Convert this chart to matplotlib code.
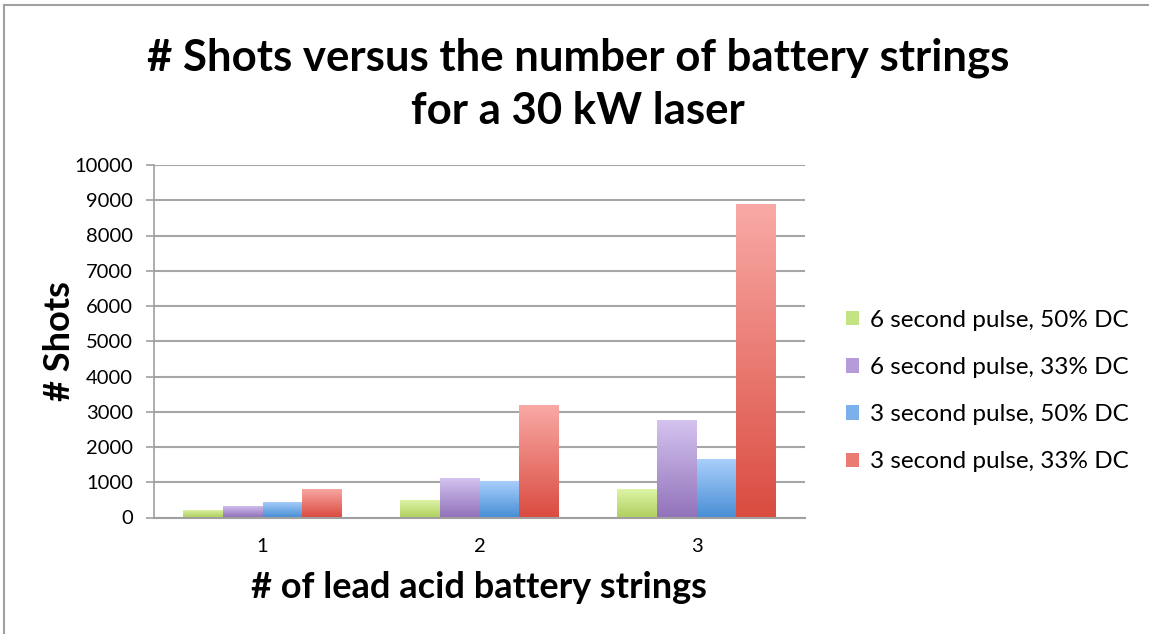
import matplotlib
matplotlib.use("Agg")
import matplotlib.pyplot as plt
import numpy as np
from matplotlib.colors import LinearSegmentedColormap
from matplotlib.patches import Patch
from matplotlib.lines import Line2D

categories = ["1", "2", "3"]
series_names = ["6 second pulse, 50% DC", "6 second pulse, 33% DC",
                "3 second pulse, 50% DC", "3 second pulse, 33% DC"]
s_6s_50 = [200, 500, 820]
s_6s_33 = [320, 1110, 2775]
s_3s_50 = [445, 1045, 1670]
s_3s_33 = [800, 3180, 8880]
series_values = [s_6s_50, s_6s_33, s_3s_50, s_3s_33]
y_ticks = [0, 1000, 2000, 3000, 4000, 5000, 6000, 7000, 8000, 9000, 10000]

top_colors = ["#e0f5aa", "#d5c4f0", "#abd0fc", "#f9aaa6"]
bot_colors = ["#b0d060", "#9173ba", "#4a8fd6", "#da4c40"]
mid_colors = ["#c4e383", "#b59cd8", "#7bb0ea", "#ea7b73"]

plt.rcParams['font.family'] = ['Lato', 'DejaVu Sans']

fig = plt.figure(figsize=(11.49, 6.34), dpi=100)
W, H = 1149, 634
ax = fig.add_axes([154 / W, (H - 517.5) / H, (805 - 154) / W, (517.5 - 165) / H])

n = len(series_values)
group_w = 0.733
bw = group_w / n
x = np.arange(len(categories))
for i, vals in enumerate(series_values):
    offs = x - group_w / 2 + bw * (i + 0.5)
    bars = ax.bar(offs, vals, width=bw, color="none", edgecolor="none", zorder=3)
    cmap = LinearSegmentedColormap.from_list("g%d" % i, [bot_colors[i], top_colors[i]])
    grad = np.linspace(0, 1, 256).reshape(-1, 1)
    for b in bars:
        x0 = b.get_x()
        h = b.get_height()
        im = ax.imshow(grad, cmap=cmap, origin="lower", aspect="auto",
                       extent=(x0, x0 + b.get_width(), 0, h), zorder=3)
        im.set_clip_path(b)

ax.set_xlim(-0.5, len(categories) - 0.5)
ax.set_ylim(0, 10000)
ax.set_yticks(y_ticks)
ax.set_yticklabels([str(t) for t in y_ticks], fontsize=14.5)
ax.set_xticks(x)
ax.set_xticklabels(categories, fontsize=14.5)
ax.tick_params(axis="x", length=0, pad=15)
ax.tick_params(axis="y", length=6, color="#a0a0a0", width=1.2, pad=9)
ax.yaxis.grid(True, color="#a6a6a6", linewidth=1.5, zorder=0)
ax.set_axisbelow(True)
for s in ["top", "right"]:
    ax.spines[s].set_visible(False)
ax.spines["left"].set_color("#a0a0a0")
ax.spines["bottom"].set_color("#a0a0a0")
ax.spines["left"].set_linewidth(1.2)
ax.spines["bottom"].set_linewidth(1.5)

fig.text(578 / W, 1 - 58 / H, "# Shots versus the number of battery strings",
         ha="center", va="center", fontsize=31.5, fontweight="bold")
fig.text(578 / W, 1 - 111 / H, "for a 30 kW laser",
         ha="center", va="center", fontsize=31.5, fontweight="bold")
fig.text(60 / W, 1 - 341 / H, "# Shots", rotation=90, ha="center", va="center",
         fontsize=26, fontweight="bold")
fig.text(479 / W, 1 - 588 / H, "# of lead acid battery strings",
         ha="center", va="center", fontsize=26, fontweight="bold")

handles = [Patch(facecolor=mid_colors[i], edgecolor="none") for i in range(n)]
fig.legend(handles, series_names, loc="upper left",
           bbox_to_anchor=(836 / W, 1 - 300 / H), frameon=False,
           fontsize=17.5, handlelength=0.55, handleheight=0.55,
           handletextpad=0.45, labelspacing=1.08, borderaxespad=0)

fig.add_artist(Line2D([4 / W, 4 / W], [0, 1 - 5 / H], color="#a0a0a0", linewidth=1.5))
fig.add_artist(Line2D([4 / W, 1], [1 - 5 / H, 1 - 5 / H], color="#a0a0a0", linewidth=1.5))

fig.savefig("out.png", dpi=100)
